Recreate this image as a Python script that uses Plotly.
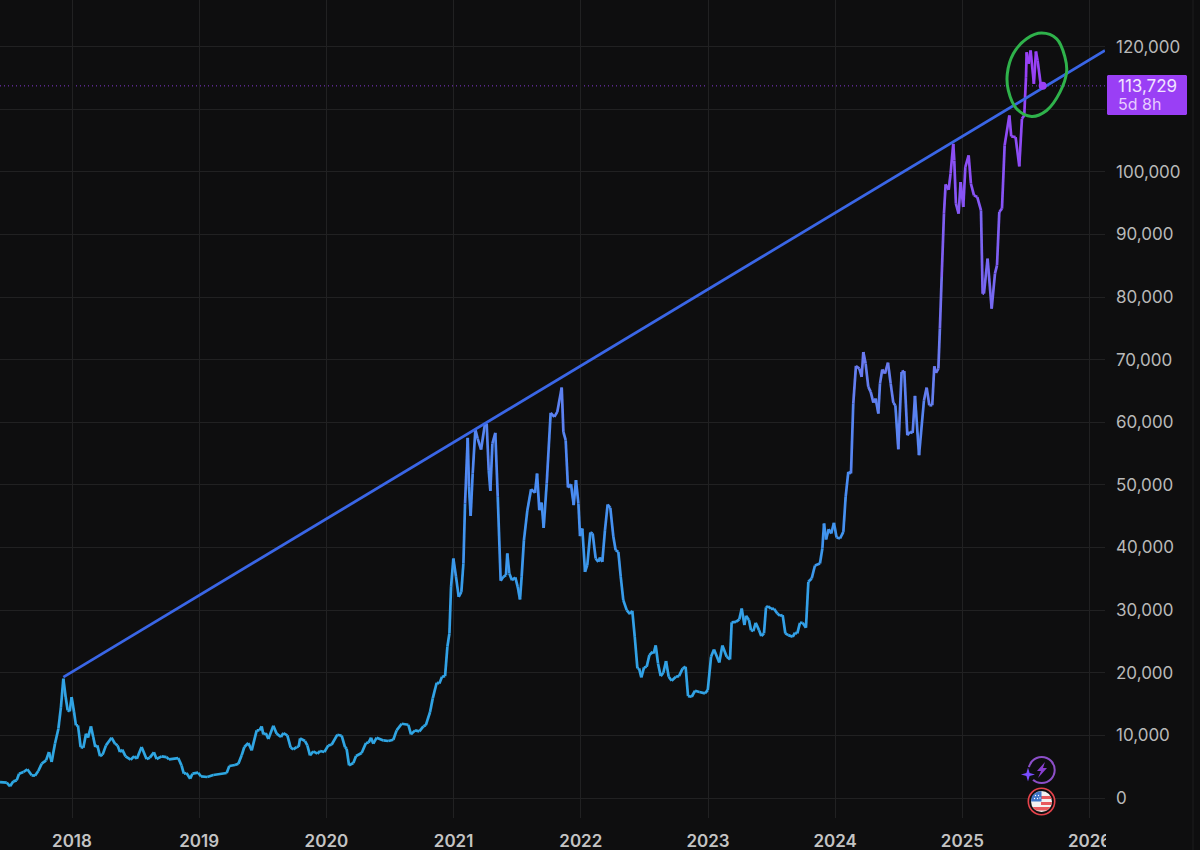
import plotly.graph_objects as go

# ---------- data ----------
years_a = [2017.434,2017.487,2017.513,2017.539,2017.565,2017.584,2017.618,2017.649,2017.683,2017.709,2017.735,2017.762,2017.796,2017.819,2017.840,2017.866,2017.893,2017.913,2017.932,2017.950,2017.966,2017.982,2017.997,2018.016,2018.031,2018.047,2018.068,2018.089,2018.110,2018.126,2018.149,2018.167,2018.183,2018.199,2018.220,2018.241,2018.267,2018.311,2018.338,2018.358,2018.377,2018.395,2018.421,2018.461,2018.489,2018.510,2018.547,2018.586,2018.612,2018.644,2018.665,2018.704,2018.743,2018.762,2018.835,2018.861,2018.879,2018.900,2018.929,2018.947,2018.992,2019.014,2019.064,2019.111,2019.216,2019.237,2019.281,2019.308,2019.334,2019.355,2019.386,2019.413,2019.452,2019.473,2019.491,2019.504,2019.523,2019.544,2019.583,2019.609,2019.643,2019.662,2019.693,2019.719,2019.740,2019.766,2019.782,2019.793,2019.832,2019.850,2019.871,2019.897,2019.929,2019.950,2019.984,2020.015,2020.041,2020.086,2020.120,2020.146,2020.159,2020.178,2020.212,2020.233,2020.277,2020.311,2020.332,2020.351,2020.369,2020.395,2020.448,2020.487,2020.526,2020.552,2020.592,2020.644,2020.665,2020.697,2020.731,2020.762,2020.781,2020.815]
prices_a = [2550,2450,1860,2660,2820,3880,4150,4580,3620,3560,4310,5480,6010,7340,5750,8670,11070,14520,19050,16120,13990,13830,16120,13730,11600,11600,8140,8030,10270,9630,11440,9740,8140,8400,6700,6920,8400,9630,8670,8400,7340,7710,6650,6120,6650,6280,8140,6220,6440,7290,6220,6650,6540,6170,6380,5210,3880,3990,3090,3880,4040,3460,3350,3670,3990,5110,5270,5480,6810,8140,8780,7610,10800,10800,11440,10160,10370,9420,11540,10270,9740,10370,10000,8030,7770,8140,8190,9520,9100,8400,6810,7450,7080,7500,7340,8400,8510,10110,9950,8140,7870,5210,5590,6700,7180,8780,8830,9630,8670,9630,9200,9100,9310,10800,11860,11700,10160,10800,10640,11440,11600,13730]

years_b = [2020.836,2020.867,2020.888,2020.909,2020.933,2020.951,2020.967,2020.980,2020.998,2021.019,2021.040,2021.061,2021.077,2021.090,2021.111,2021.121,2021.134,2021.150,2021.171,2021.189,2021.216,2021.247,2021.260,2021.276,2021.289,2021.305,2021.328,2021.347,2021.370,2021.391,2021.412,2021.422,2021.438,2021.459,2021.485,2021.504,2021.522,2021.535,2021.553,2021.580,2021.609,2021.640,2021.656,2021.674,2021.692,2021.708,2021.732,2021.763,2021.792,2021.815,2021.850,2021.863,2021.881,2021.899,2021.923,2021.944,2021.962,2021.981,2021.994,2022.012,2022.033,2022.051,2022.075,2022.093,2022.117,2022.138,2022.151,2022.169,2022.190,2022.211,2022.232,2022.256,2022.274,2022.295,2022.314,2022.334,2022.361,2022.387,2022.405,2022.424,2022.445,2022.458,2022.476,2022.497,2022.518,2022.539,2022.565,2022.573,2022.589,2022.607,2022.628,2022.649,2022.670,2022.691,2022.714,2022.748,2022.772,2022.801,2022.824,2022.843,2022.872,2022.898,2022.932,2022.976,2022.998,2023.024,2023.047,2023.089,2023.113,2023.147,2023.173]
prices_b = [15910,18410,18300,19360,19470,24150,26280,33730,38250,35320,32130,32930,37450,47030,57510,49690,45060,51820,58840,57400,55650,59800,59800,52350,49050,56600,58310,48090,34690,35320,35590,39050,35860,34790,35220,33730,31710,35320,41180,45960,49320,48730,51820,45960,47190,43150,50220,61500,60860,61660,65540,58470,57140,49580,50110,46760,50750,47030,41820,43040,36120,37190,42400,42240,38250,37720,38410,37720,42770,46870,46340,41710,39580,39310,35320,31600,30000,29370,29900,25750,20690,20690,19260,20850,20960,22820,23350,23090,24370,21490,19470,20000,21870,19360,18730,19360,19470,20690,20960,16280,16170,17130,16920,16700,17240,22560,23730,21650,24370,22560,22130]

years_c = [2023.186,2023.220,2023.246,2023.265,2023.286,2023.299,2023.322,2023.338,2023.356,2023.375,2023.401,2023.419,2023.440,2023.456,2023.472,2023.495,2023.519,2023.545,2023.566,2023.587,2023.608,2023.631,2023.666,2023.684,2023.702,2023.723,2023.744,2023.770,2023.789,2023.815,2023.841,2023.880,2023.899,2023.912,2023.928,2023.949,2023.969,2023.990,2024.011,2024.038,2024.064,2024.082,2024.103,2024.124,2024.142,2024.163,2024.190,2024.208,2024.221,2024.239,2024.260,2024.279,2024.300,2024.318,2024.339,2024.352,2024.370,2024.391,2024.415,2024.436,2024.457,2024.473,2024.496,2024.522,2024.543,2024.567,2024.588,2024.609,2024.627,2024.659,2024.698,2024.719,2024.740,2024.763,2024.779,2024.792,2024.811]
prices_c = [28040,28140,28520,30270,27610,29100,28410,26810,26650,27980,26810,25860,26280,30430,30640,30220,30220,29470,29100,29210,26280,26010,25750,26390,26280,27980,27980,27190,34530,35060,37130,37450,39850,43840,41280,42930,42240,43940,41600,41440,42510,48090,52080,51820,62990,69000,68570,67240,71230,69370,65650,64850,63150,63790,61390,66180,68420,67780,69530,66180,63100,62720,55700,68040,68200,57930,58470,58310,64210,54740,63520,65540,62720,62720,68950,67880,68570]

years_d = [2024.823,2024.837,2024.855,2024.868,2024.892,2024.907,2024.928,2024.936,2024.949,2024.970,2024.986,2025.007,2025.023,2025.049,2025.067,2025.091,2025.117,2025.146,2025.159,2025.169,2025.198,2025.230,2025.256,2025.272,2025.290,2025.311,2025.332,2025.369,2025.384,2025.418,2025.447,2025.468,2025.486,2025.500,2025.505,2025.521,2025.536,2025.562,2025.578,2025.591,2025.615,2025.631]
prices_d = [74960,83200,93310,97990,97140,99700,104480,101820,94910,93310,98370,94380,100760,102620,98100,96240,95970,93840,80540,80540,86130,78150,83740,85070,93580,94110,104220,109000,105660,105550,100870,108470,109000,115130,119110,117250,119380,114060,119220,117790,114060,113729]

trend_years = [2017.932, 2026.121]
trend_prices = [19310, 119380]
last_price = 113729
countdown = "5d 8h"
circle_years = [2025.623,2025.741,2025.806,2025.819,2025.767,2025.662,2025.544,2025.426,2025.361,2025.353,2025.400,2025.505,2025.623]
circle_prices = [122150,121240,118320,115920,112730,109800,108850,110070,113000,115660,118850,121240,122150]
year_ticks = [2018,2019,2020,2021,2022,2023,2024,2025,2026]
price_ticks = list(range(0, 130000, 10000))
hidden_price_ticks = [110000]   # its label sits behind the price box in the reference

# ---------- style ----------
BG = "#0e0e0f"
GRID = "#212122"
PURPLE = "#9a3ff5"
TEXT = "#b9b9b9"
W, H = 1200, 850
PLOT_R, PLOT_B = 1105, 818
STOPS = [(0, (46,168,224)), (30000, (52,160,232)), (50000, (74,140,242)),
         (70000, (106,122,240)), (100000, (138,80,245)), (120000, (154,63,245))]

def grad(v):
    for (a, ca), (b, cb) in zip(STOPS, STOPS[1:]):
        if v <= b:
            t = (v - a) / (b - a)
            return "rgb(%d,%d,%d)" % tuple(round(p + (q - p) * t) for p, q in zip(ca, cb))
    return "rgb(154,63,245)"

xs = years_a + years_b + years_c + years_d
ys = prices_a + prices_b + prices_c + prices_d
assert len(xs) == len(ys)

# colour bins by price: the line shades from blue to purple as it rises
BIN = 4000
bins = {}
for i in range(len(xs) - 1):
    k = int((ys[i] + ys[i + 1]) / 2 // BIN)
    b = bins.setdefault(k, ([], []))
    b[0].extend([xs[i], xs[i + 1], None])
    b[1].extend([ys[i], ys[i + 1], None])

fig = go.Figure()
for k in sorted(bins):
    fig.add_trace(go.Scatter(x=bins[k][0], y=bins[k][1], mode="lines", hoverinfo="skip",
                             line=dict(color=grad((k + 0.5) * BIN), width=2.7), showlegend=False))
fig.add_trace(go.Scatter(x=trend_years, y=trend_prices, mode="lines", hoverinfo="skip",
                         line=dict(color="#3a66e6", width=2.8), showlegend=False))
fig.add_trace(go.Scatter(x=circle_years, y=circle_prices, mode="lines", hoverinfo="skip",
                         line=dict(color="#2fb24b", width=3, shape="spline", smoothing=1.1), showlegend=False))
fig.add_trace(go.Scatter(x=[xs[-1]], y=[ys[-1]], mode="markers", hoverinfo="skip",
                         marker=dict(color=PURPLE, size=8), showlegend=False))

# ---------- overlay helpers (page pixels to paper coordinates) ----------
def X(p): return p / PLOT_R
def Y(p): return 1 - p / PLOT_B

def circle(cx, cy, r, **kw):
    return dict(type="circle", xref="paper", yref="paper", layer="above",
                x0=X(cx - r), x1=X(cx + r), y0=Y(cy + r), y1=Y(cy - r), **kw)

def rect(x0, y0, x1, y1, color):
    return dict(type="rect", xref="paper", yref="paper", layer="above",
                x0=X(x0), x1=X(x1), y0=Y(y1), y1=Y(y0), fillcolor=color, line=dict(width=0))

def poly(pts, color):
    d = "M" + " L".join("%.5f,%.5f" % (X(a), Y(b)) for a, b in pts) + " Z"
    return dict(type="path", xref="paper", yref="paper", layer="above", path=d,
                fillcolor=color, line=dict(width=0))

shapes = [
    dict(type="line", xref="paper", yref="y", x0=0, x1=1, y0=last_price, y1=last_price,
         layer="below", line=dict(color="rgba(154,63,245,0.85)", width=1, dash="1px,3px")),
    dict(type="line", xref="paper", yref="paper", x0=X(1193), x1=X(1193), y0=Y(850), y1=Y(0),
         layer="below", line=dict(color="#1d1d1e", width=1)),
    rect(1106, 822, 1116, 850, BG),                                    # trims the 2026 label
    poly([(1108,75),(1186,75),(1187,76),(1187,114),(1186,115),(1108,115),(1107,114),(1107,76)], PURPLE),
    # lightning badge
    circle(1041.7, 770, 13, line=dict(color="#8c4fc8", width=2), fillcolor="rgba(0,0,0,0)"),
    poly([(1045,762),(1037,771),(1041,771),(1038,778),(1047,768),(1043,768)], "#8a3fd0"),
    circle(1028, 774.5, 7.5, fillcolor=BG, line=dict(width=0)),
    poly([(1028,767.5),(1029.6,773),(1035,774.5),(1029.6,776),(1028,781.5),(1026.4,776),(1021,774.5),(1026.4,773)], "#7a4dff"),
    # flag badge
    circle(1041.5, 801.5, 13.2, line=dict(color="#e5434b", width=1.6), fillcolor=BG),
    circle(1041.5, 801.5, 10.5, line=dict(width=0), fillcolor="#f4f2f2"),
    poly([(1041,796),(1050.5,796),(1051.8,799),(1041,799)], "#e85a5e"),
    poly([(1041,802),(1052,802),(1051.2,805),(1041,805)], "#e85a5e"),
    poly([(1032.5,807),(1050.5,807),(1047,810.5),(1036,810.5)], "#e85a5e"),
    poly([(1036,792.5),(1041.5,791),(1041.5,801.5),(1031,801.5),(1032,796)], "#3f76c8"),
]
for dot in [(1035.5,795.5),(1038.5,795.5),(1034.5,798.5),(1037.5,798.5),(1040,798)]:
    shapes.append(circle(dot[0], dot[1], 0.7, line=dict(width=0), fillcolor="#ffffff"))

annotations = [
    dict(xref="paper", yref="paper", x=X(1116), y=Y(86), xanchor="left", yanchor="middle", showarrow=False,
         text=f"{last_price:,}", font=dict(family="Inter", size=17, color="#f1e4ff")),
    dict(xref="paper", yref="paper", x=X(1116), y=Y(104), xanchor="left", yanchor="middle", showarrow=False,
         text=countdown, font=dict(family="Inter", size=16, color="#e6ccff")),
]

fig.update_layout(
    width=W, height=H, margin=dict(l=0, r=W - PLOT_R, t=0, b=H - PLOT_B, pad=0),
    paper_bgcolor=BG, plot_bgcolor=BG, showlegend=False, shapes=shapes, annotations=annotations,
    xaxis=dict(range=[2017.434, 2026.121], tickvals=year_ticks, ticktext=[str(y) for y in year_ticks],
               showgrid=True, gridcolor=GRID, gridwidth=1, zeroline=False, showline=False, ticks="",
               ticklabelstandoff=11, tickfont=dict(family="Inter", size=17, color="#c4c4c4", weight=600)),
    yaxis=dict(range=[-3194, 127440], side="right", tickvals=price_ticks,
               ticktext=["" if v in hidden_price_ticks else f"{v:,}" for v in price_ticks],
               showgrid=True, gridcolor=GRID, gridwidth=1, zeroline=False, showline=False, ticks="",
               ticklabelstandoff=10, tickfont=dict(family="Inter", size=17, color=TEXT)),
)

fig.write_html("out.html", config=dict(displayModeBar=False),
               post_script=f"document.body.style.margin='0';document.body.style.background='{BG}';")
